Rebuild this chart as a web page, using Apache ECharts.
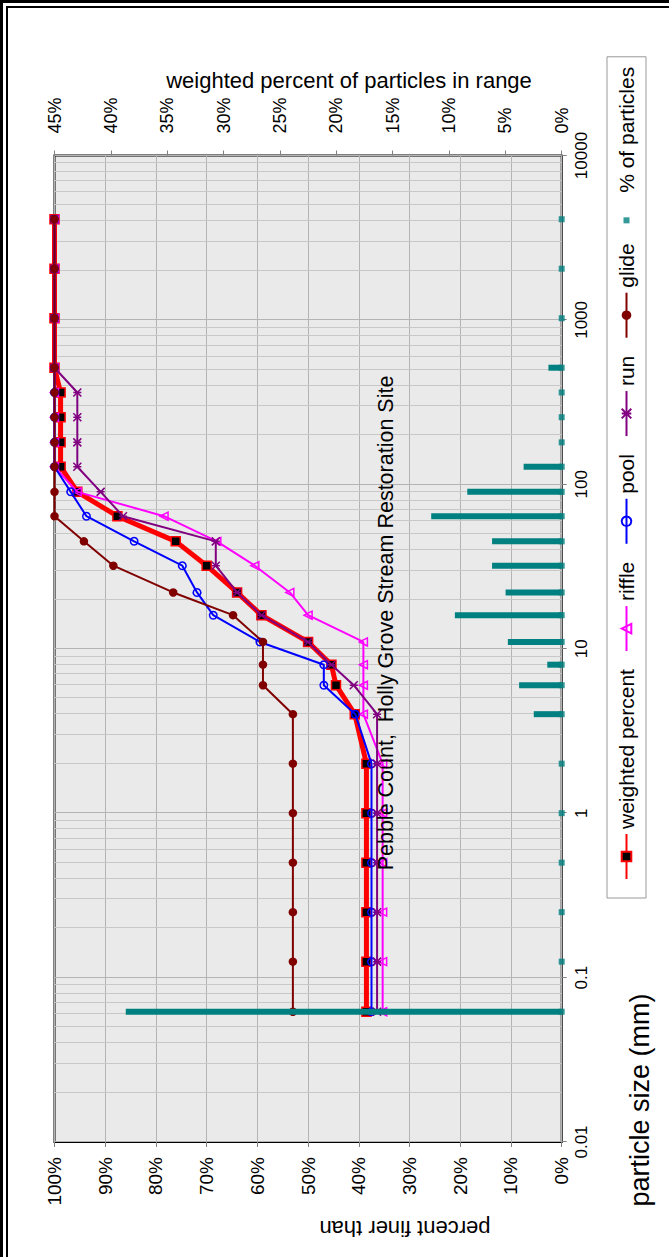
<!DOCTYPE html>
<html><head><meta charset="utf-8">
<script src="https://cdn.jsdelivr.net/npm/echarts/dist/echarts.min.js"></script>
<style>
html,body{margin:0;padding:0;background:#fff;width:669px;height:1257px;overflow:hidden;}
#chart{position:absolute;left:0;top:0;width:1257px;height:669px;transform-origin:0 0;transform:translate(0px,1257px) rotate(-90deg);}
.f1{position:absolute;left:0;top:0;width:669px;height:1257px;border-top:3px solid #000;border-left:3px solid #000;box-sizing:border-box;}
.f2{position:absolute;left:6px;top:6px;width:663px;height:1251px;border-top:2px solid #000;border-left:2px solid #000;box-sizing:border-box;}
</style></head>
<body>
<div class="f1"></div><div class="f2"></div>
<div id="chart"></div>
<script>
// particle size classes (mm)
const sizes = [0.062,0.125,0.25,0.5,1,2,4,6,8,11,16,22,32,45,64,90,128,180,256,362,512,1024,2048,4096];
// cumulative percent finer than
const weighted = [38.5,38.5,38.5,38.5,38.5,38.5,40.8,44.5,45.4,50.0,59.2,64.0,70.0,76.1,87.6,95.5,98.8,98.8,98.8,98.8,100,100,100,100];
const riffle   = [35.3,35.3,35.3,35.3,35.3,35.3,39.1,39.1,39.1,39.1,50.0,53.6,60.5,68.0,78.4,95.5,100,100,100,100,100,100,100,100];
const pool     = [37.5,37.5,37.5,37.5,37.5,37.5,40.7,46.9,46.9,59.5,68.7,71.9,74.8,84.3,93.7,96.8,100,100,100,100,100,100,100,100];
const run      = [36.4,36.4,36.4,36.4,36.4,36.4,36.4,41.0,45.4,50.0,59.2,64.0,68.2,68.2,86.5,90.9,95.5,95.5,95.5,95.5,100,100,100,100];
const glide    = [53.0,53.0,53.0,53.0,53.0,53.0,53.0,58.9,58.9,58.9,64.8,76.6,88.4,94.2,100,100,100,100,100,100,100,100,100,100];
// weighted percent of particles in each size range
const pctInRange = [38.5,0,0,0,0,0,2.3,3.6,1.1,4.6,9.3,4.8,6.0,6.0,11.4,8.2,3.2,0,0,0,1.0,0,0,0];
// tick labels
const sizeTickLabels = ['0.01','0.1','1','10','100','1000','10000'];
const seriesNames = ['weighted percent','riffle','pool','run','glide','% of particles'];
const titleText = 'Pebble Count,  Holly Grove Stream Restoration Site';

const FONT = '"Liberation Sans", Arial, Helvetica, sans-serif';
const minorVals = [];
for (let k = -2; k < 4; k++) for (let m = 2; m <= 9; m++) minorVals.push(+(m * Math.pow(10, k)).toPrecision(6));

const pairs = arr => sizes.map((s, i) => [s, arr[i]]);

const chart = echarts.init(document.getElementById('chart'), null, {renderer: 'svg'});
chart.setOption({
  animation: false,
  backgroundColor: 'transparent',
  textStyle: {fontFamily: FONT},
  grid: {left: 115, right: 155.5, top: 54.5, bottom: 107.3, containLabel: false, outerBoundsMode: 'none',
         show: true, backgroundColor: '#EAEAEA', borderColor: '#000', borderWidth: 2, z: 0},
  xAxis: {type: 'log', logBase: 10, min: 0.01, max: 10000,
    axisLine: {show: false},
    axisTick: {show: true, length: 5, lineStyle: {color: '#808080'}},
    axisLabel: {fontSize: 17, color: '#000', margin: 11, fontFamily: FONT,
      formatter: v => { const k = Math.round(Math.log10(v)); return sizeTickLabels[k + 2] || ''; }},
    splitLine: {show: true, lineStyle: {color: '#B4B4B4', width: 1}},
    minorTick: {show: false}
  },
  yAxis: [
    {type: 'value', min: 0, max: 100, interval: 10, position: 'left',
      axisLine: {show: false}, axisTick: {show: true, length: 5, lineStyle: {color: '#808080'}},
      axisLabel: {fontSize: 19, color: '#000', margin: 15, fontFamily: FONT, formatter: '{value}%'},
      splitLine: {show: true, lineStyle: {color: '#B4B4B4', width: 1}}},
    {type: 'value', min: 0, max: 45, interval: 5, position: 'right',
      axisLine: {show: false}, axisTick: {show: true, length: 5, lineStyle: {color: '#808080'}},
      axisLabel: {fontSize: 18, color: '#000', margin: 22, fontFamily: FONT, formatter: '{value}%'},
      splitLine: {show: false}}
  ],
  legend: {
    data: [{name: seriesNames[0]}, {name: seriesNames[1]}, {name: seriesNames[2]}, {name: seriesNames[3]}, {name: seriesNames[4]},
           {name: seriesNames[5], icon: 'path://M0 0M12 12M3 3H9V9H3Z'}],
    left: 359, top: 607, orient: 'horizontal', itemWidth: 45, itemHeight: 12, itemGap: 17,
    padding: [9, 10, 9, 18], borderColor: '#999', borderWidth: 1, backgroundColor: '#fff',
    textStyle: {fontSize: 21, color: '#000', fontFamily: FONT}, selectedMode: false
  },
  graphic: [
    {type: 'text', x: 634, y: 386, style: {text: titleText, fontSize: 21.5, fontFamily: FONT, fill: '#000', align: 'center', verticalAlign: 'middle', textAlign: 'center', textVerticalAlign: 'middle'}, z: 100},
    {type: 'text', x: 1177, y: 349, rotation: -Math.PI / 2, style: {text: 'weighted percent of particles in range', fontSize: 22, fontFamily: FONT, fill: '#000', align: 'center', verticalAlign: 'middle', textAlign: 'center', textVerticalAlign: 'middle'}},
    {type: 'text', x: 29, y: 405, rotation: Math.PI / 2, style: {text: 'percent finer than', fontSize: 22, fontFamily: FONT, fill: '#000', align: 'center', verticalAlign: 'middle', textAlign: 'center', textVerticalAlign: 'middle'}},
    {type: 'text', x: 157, y: 640, style: {text: 'particle size (mm)', fontSize: 27, fontFamily: FONT, fill: '#000', align: 'center', verticalAlign: 'middle', textAlign: 'center', textVerticalAlign: 'middle'}}
  ],
  series: [
    {type: 'line', name: '_grid', data: [], z: 1, silent: true,
      markLine: {silent: true, symbol: 'none', z: 1, animation: false, label: {show: false},
        lineStyle: {color: '#C8C8C8', type: 'solid', width: 1},
        emphasis: {disabled: true},
        data: minorVals.map(v => ({xAxis: v}))}},
    {type: 'line', name: seriesNames[0], data: pairs(weighted), z: 2, clip: false,
      lineStyle: {color: '#FF0000', width: 5}, symbol: 'rect', symbolSize: 9,
      itemStyle: {color: '#000', borderColor: '#FF0000', borderWidth: 1.5}},
    {type: 'line', name: seriesNames[1], data: pairs(riffle), z: 3, clip: false,
      lineStyle: {color: '#FF00FF', width: 2}, symbol: 'triangle', symbolSize: 8,
      itemStyle: {color: 'rgba(0,0,0,0)', borderColor: '#FF00FF', borderWidth: 1.5}},
    {type: 'line', name: seriesNames[2], data: pairs(pool), z: 4, clip: false,
      lineStyle: {color: '#0000FF', width: 2}, symbol: 'circle', symbolSize: 7.5,
      itemStyle: {color: 'rgba(0,0,0,0)', borderColor: '#0000FF', borderWidth: 1.5}},
    {type: 'line', name: seriesNames[3], data: pairs(run), z: 5, clip: false,
      lineStyle: {color: '#800080', width: 2}, symbol: 'path://M0 0L10 10M10 0L0 10M5 0L5 10', symbolSize: 8,
      itemStyle: {color: 'rgba(0,0,0,0)', borderColor: '#800080', borderWidth: 1.5}},
    {type: 'line', name: seriesNames[4], data: pairs(glide), z: 6, clip: false,
      lineStyle: {color: '#800000', width: 2}, symbol: 'circle', symbolSize: 8.5,
      itemStyle: {color: '#800000', borderColor: '#800000', borderWidth: 0}},
    {type: 'custom', name: '_bars', yAxisIndex: 1, data: pairs(pctInRange), z: 7, clip: false,
      encode: {x: 0, y: 1},
      renderItem: (params, api) => {
        const s = api.value(0), v = api.value(1);
        if (!(v > 0)) return null;
        const p0 = api.coord([s, 0]), p1 = api.coord([s, v]);
        return {type: 'rect', shape: {x: p0[0] - 3, y: p1[1] - 2, width: 6, height: p0[1] - p1[1] + 2}, style: {fill: '#008080'}};
      }},
    {type: 'scatter', name: seriesNames[5], yAxisIndex: 1, data: sizes.map(s => [s, 0]), z: 8, clip: false,
      symbol: 'rect', symbolSize: 6, itemStyle: {color: '#008080'}}
  ]
});
</script>
</body></html>
